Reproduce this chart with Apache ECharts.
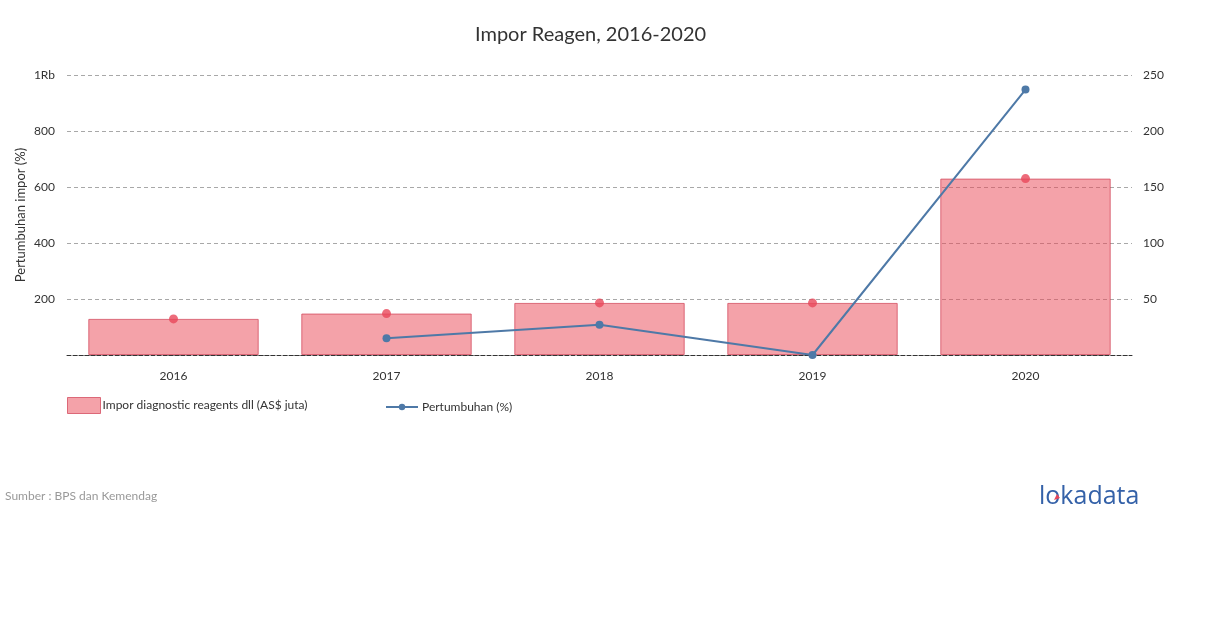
<!DOCTYPE html>
<html>
<head>
<meta charset="utf-8">
<script src="https://cdn.jsdelivr.net/npm/echarts@6/dist/echarts.min.js"></script>
<style>
html,body{margin:0;padding:0;background:#fff;}
#chart{width:1210px;height:628px;}
</style>
</head>
<body>
<div id="chart"></div>
<script>
const categories = ['2016', '2017', '2018', '2019', '2020'];
const imporValues = [129, 148, 186, 186, 630];
const growthValues = [null, 15, 27, 0, 237];
const leftTicks = { min: 0, max: 1000, interval: 200 };
const rightTicks = { min: 0, max: 250, interval: 50 };

const FONT = 'Lato';
const chart = echarts.init(document.getElementById('chart'), null, { renderer: 'canvas' });

chart.setOption({
  backgroundColor: '#ffffff',
  animation: false,
  textStyle: { fontFamily: FONT },
  title: {
    text: 'Impor Reagen, 2016-2020',
    left: 470,
    top: 20,
    textStyle: { fontFamily: FONT, fontSize: 20, fontWeight: 'normal', color: '#333' }
  },
  grid: { left: 67, right: 78, top: 75, height: 280, containLabel: false },
  legend: [
    {
      data: ['Impor diagnostic reagents dll (AS$ juta)'],
      left: 62, top: 392,
      icon: 'rect',
      itemWidth: 33, itemHeight: 16, itemGap: 4,
      itemStyle: { borderWidth: 1, borderColor: 'rgba(210,70,90,0.75)' },
      textStyle: { fontFamily: FONT, fontSize: 12, color: '#333', padding: [0, 0, 0, -3] }
    },
    {
      data: ['Pertumbuhan (%)'],
      left: 380, top: 396,
      itemWidth: 32, itemHeight: 8,
      textStyle: { fontFamily: FONT, fontSize: 12, color: '#333', padding: [0, 0, 0, -1] }
    }
  ],
  xAxis: {
    type: 'category',
    data: categories,
    axisLine: { show: true, lineStyle: { color: '#333', type: 'dashed', width: 1 } },
    axisTick: { show: false },
    axisLabel: { fontFamily: FONT, fontSize: 12, color: '#333', margin: 15 }
  },
  yAxis: [
    {
      type: 'value',
      min: leftTicks.min, max: leftTicks.max, interval: leftTicks.interval,
      name: 'Pertumbuhan impor (%)',
      nameLocation: 'middle',
      nameGap: 40,
      nameMoveOverlap: false,
      nameRotate: 90,
      nameTextStyle: { fontFamily: FONT, fontSize: 13, color: '#333' },
      axisLine: { show: false },
      axisTick: { show: false },
      axisLabel: {
        fontFamily: FONT, fontSize: 12, color: '#333', margin: 12,
        formatter: v => v === 0 ? '' : (v === 1000 ? '1Rb' : String(v))
      },
      splitLine: { show: true, lineStyle: { color: '#a8a8a8', type: [4, 3], width: 1 } }
    },
    {
      type: 'value',
      min: rightTicks.min, max: rightTicks.max, interval: rightTicks.interval,
      axisLine: { show: false },
      axisTick: { show: false },
      axisLabel: {
        fontFamily: FONT, fontSize: 12, color: '#333', margin: 11,
        formatter: v => v === 0 ? '' : String(v)
      },
      splitLine: { show: false }
    }
  ],
  series: [
    {
      name: 'Impor diagnostic reagents dll (AS$ juta)',
      type: 'bar',
      yAxisIndex: 0,
      data: imporValues,
      barCategoryGap: '20%',
      itemStyle: { color: 'rgba(233,69,83,0.5)', borderColor: 'rgba(210,70,90,0.75)', borderWidth: 1 },
      z: 1
    },
    {
      name: 'Impor points',
      type: 'scatter',
      yAxisIndex: 0,
      data: imporValues,
      symbolSize: 9,
      itemStyle: { color: '#e8475a' },
      z: 3
    },
    {
      name: 'Pertumbuhan (%)',
      type: 'line',
      yAxisIndex: 1,
      data: growthValues,
      symbol: 'circle',
      symbolSize: 8,
      connectNulls: false,
      lineStyle: { color: '#4e79a7', width: 2 },
      itemStyle: { color: '#4e79a7' },
      z: 4
    }
  ],
  graphic: [
    {
      type: 'text', left: 5, top: 490,
      style: { text: 'Sumber : BPS dan Kemendag', font: '12px Lato', fill: '#999' }
    },
    {
      type: 'text', left: 1039, top: 484,
      style: { text: 'lokadata', font: '500 25px "Open Sans"', fill: '#3461a8' }
    },
    {
      type: 'polygon',
      shape: { points: [[1054, 500], [1057, 494], [1060, 498]] },
      style: { fill: '#e8475a' },
      z: 10
    }
  ]
});
</script>
</body>
</html>
